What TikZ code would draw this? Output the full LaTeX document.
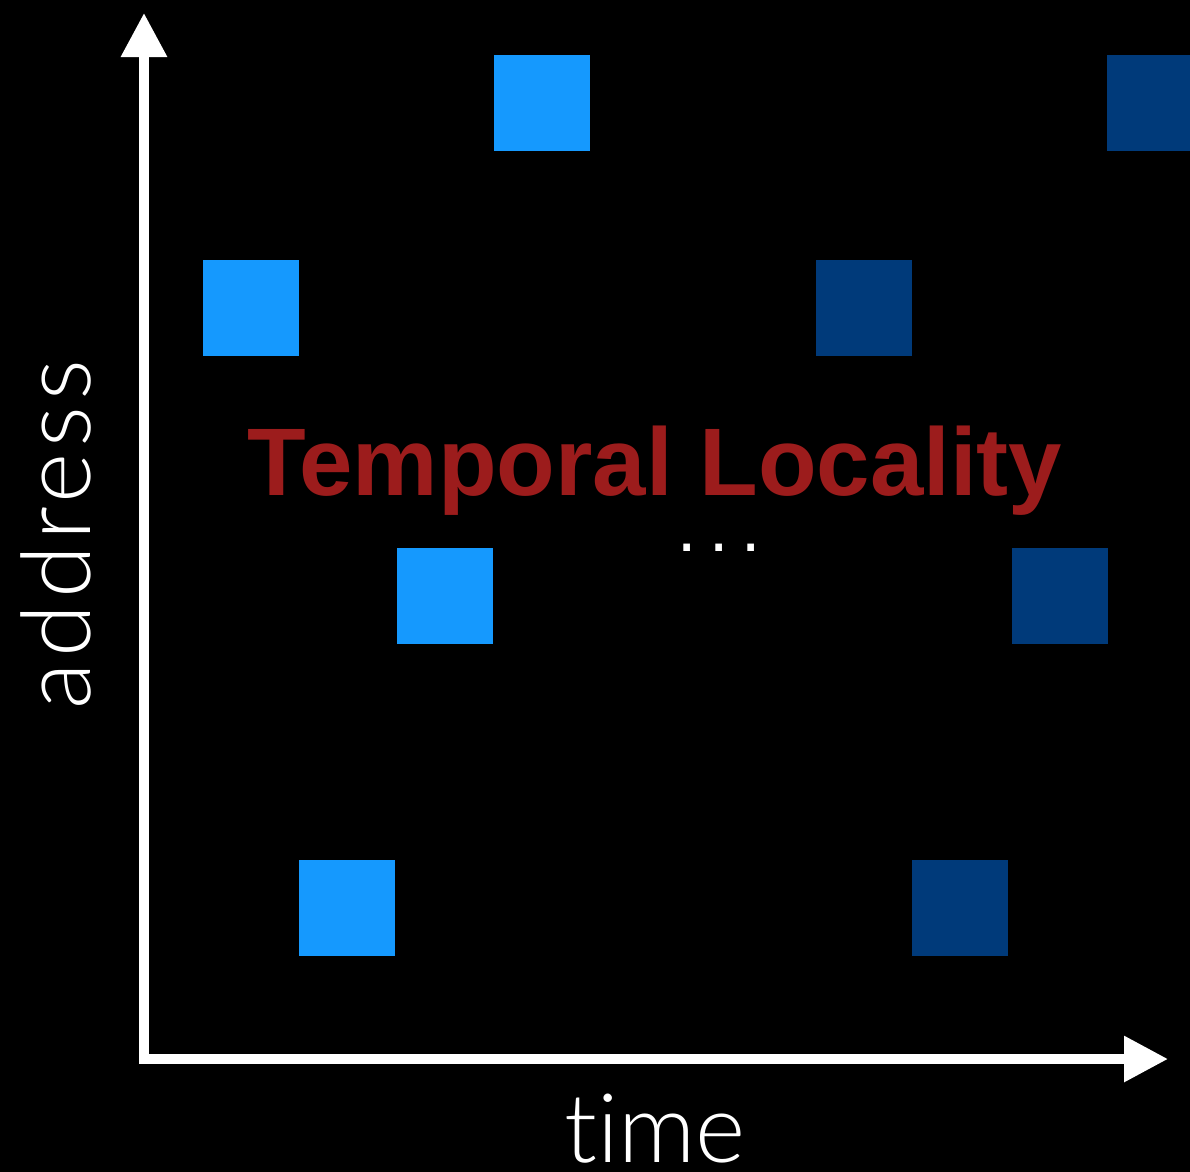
\documentclass[tikz,border=0pt]{standalone}
\usepackage{fontspec}
\setmainfont{Liberation Sans}
\newfontfamily\lightfont{Lato}[UprightFont={* Light}, Ligatures={NoCommon}]
\newfontfamily\lightspaced{Lato}[UprightFont={* Light}, Ligatures={NoCommon}, LetterSpace=6]
\usetikzlibrary{arrows.meta}
\definecolor{lblue}{HTML}{1599FE}
\definecolor{dblue}{HTML}{003A7A}
\definecolor{tred}{HTML}{9C1C1C}
\tikzset{
  sq/.style={minimum size=72pt, inner sep=0pt, outer sep=0pt, draw=none},
  lsq/.style={sq, fill=lblue},
  dsq/.style={sq, fill=dblue},
  axis/.style={white, line width=7pt,
    {Triangle[length=33pt,width=33pt]}-{Triangle[length=33pt,width=33pt]}},
  lbl/.style={white, inner sep=0pt, text depth=0pt}
}
\begin{document}
\begin{tikzpicture}[x=0.75pt,y=-0.75pt]
\useasboundingbox (0,0) rectangle (1190,1172);
\fill[black] (0,0) rectangle (1190,1172);
\clip (0,0) rectangle (1190,1172);
% light blue squares
\node[lsq] (l1) at (541.5,103) {};
\node[lsq] (l2) at (251,308) {};
\node[lsq] (l3) at (445,596) {};
\node[lsq] (l4) at (347,908) {};
% dark blue squares
\node[dsq] (d1) at (1155,103) {};
\node[dsq] (d2) at (864,308) {};
\node[dsq] (d3) at (1059.5,596) {};
\node[dsq] (d4) at (960,908) {};
% axes
\coordinate (ytip) at (144,13);
\coordinate (origin) at (144,1059);
\coordinate (xtip) at (1168,1059);
\draw[axis] (ytip) |- (xtip);
% labels
\node[lbl, rotate=90, anchor=base, font=\lightspaced\fontsize{72}{80}\selectfont] (addr) at (90,535) {address};
\node[lbl, anchor=base, text height=50pt, font=\lightfont\fontsize{72}{80}\selectfont] (time) at (655,1162) {time};
\node[anchor=base, inner sep=0pt, text depth=0pt, text=tred, font=\bfseries\fontsize{72}{80}\selectfont] (title) at (655,495) {Temporal Locality};
\node[white, anchor=base, inner sep=0pt, text height=6pt, text depth=0pt, font=\fontsize{52}{60}\selectfont] (dots) at (719,551) {.\hspace{9.4pt}.\hspace{9.4pt}.};
\end{tikzpicture}
\end{document}
